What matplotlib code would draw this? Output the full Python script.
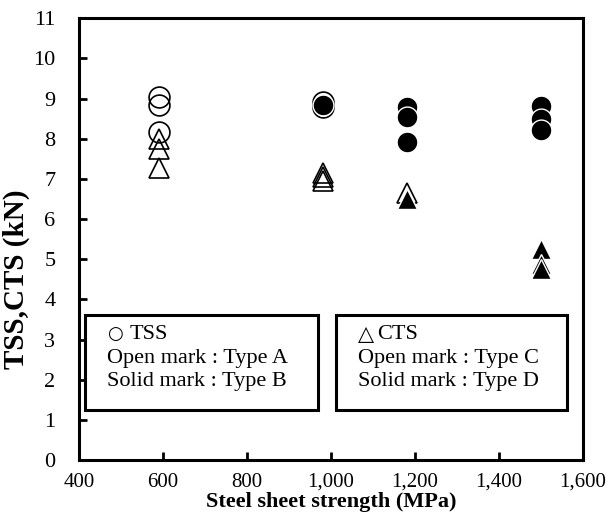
import numpy as np
import matplotlib.pyplot as plt
from matplotlib.patches import Rectangle
from matplotlib.ticker import FuncFormatter

plt.rcParams['font.family'] = ['Liberation Serif', 'DejaVu Sans']

# TSS, open circle (Type A) / solid circle (Type B)
tss_a_x = [590, 590, 590, 980, 980]
tss_a_y = [9.05, 8.85, 8.18, 8.92, 8.8]
tss_b_x = [980, 1180, 1180, 1180, 1500, 1500, 1500]
tss_b_y = [8.85, 8.8, 8.55, 7.92, 8.82, 8.5, 8.22]

# CTS, open triangle (Type C) / solid triangle (Type D)
cts_c_x = [590, 590, 590, 980, 980, 980, 1180]
cts_c_y = [8.0, 7.75, 7.28, 7.15, 7.05, 6.95, 6.65]
cts_d_x = [1180, 1500, 1500, 1500]
cts_d_y = [6.5, 5.25, 4.88, 4.75]

fig = plt.figure(figsize=(6.08, 5.2), dpi=100)
ax = fig.add_axes([0.13, 0.115, 0.829, 0.85])

ms = 15
ax.plot(tss_a_x, tss_a_y, 'o', ms=ms, mfc='none', mec='black', mew=1.2)
ax.plot(tss_b_x, tss_b_y, 'o', ms=ms, mfc='black', mec='white', mew=1.0)
ax.plot(cts_c_x, cts_c_y, '^', ms=ms, mfc='none', mec='black', mew=1.2)
ax.plot(cts_d_x, cts_d_y, '^', ms=ms, mfc='black', mec='white', mew=1.0)

ax.set_xlim(400, 1600)
ax.set_ylim(0, 11)
ax.set_xticks(np.arange(400, 1601, 200))
ax.set_yticks(np.arange(0, 12, 1))
ax.xaxis.set_major_formatter(FuncFormatter(lambda v, p: f"{int(v):,}"))
ax.tick_params(direction='in', length=6, width=2, labelsize=15)
ax.tick_params(axis='y', pad=17, labelsize=16)
ax.tick_params(axis='x', pad=9)
for s in ax.spines.values():
    s.set_linewidth(2.2)

ax.set_xlabel('Steel sheet strength (MPa)', fontsize=16, fontweight='bold', labelpad=0)
ax.set_ylabel('TSS,CTS (kN)', fontsize=21, fontweight='bold')
ax.yaxis.set_label_coords(-0.097, 0.41)

# legend boxes
for x0, x1 in [(0.012, 0.474), (0.51, 0.968)]:
    ax.add_patch(Rectangle((x0, 0.113), x1 - x0, 0.215, transform=ax.transAxes,
                           fill=True, fc='white', ec='black', lw=2.2, zorder=5))

fs = 16
ax.text(0.055, 0.285, '\u25cb', transform=ax.transAxes, fontsize=13, va='center', zorder=6,
        family='DejaVu Sans')
ax.text(0.1, 0.285, 'TSS', transform=ax.transAxes, fontsize=fs, va='center', zorder=6)
ax.text(0.055, 0.229, 'Open mark : Type A', transform=ax.transAxes, fontsize=fs, va='center', zorder=6)
ax.text(0.055, 0.179, 'Solid mark : Type B', transform=ax.transAxes, fontsize=fs, va='center', zorder=6)
ax.text(0.553, 0.285, '\u25b3', transform=ax.transAxes, fontsize=15, va='center', zorder=6,
        family='DejaVu Sans')
ax.text(0.592, 0.285, 'CTS', transform=ax.transAxes, fontsize=fs, va='center', zorder=6)
ax.text(0.553, 0.229, 'Open mark : Type C', transform=ax.transAxes, fontsize=fs, va='center', zorder=6)
ax.text(0.553, 0.179, 'Solid mark : Type D', transform=ax.transAxes, fontsize=fs, va='center', zorder=6)

fig.savefig('out.png', dpi=100)
